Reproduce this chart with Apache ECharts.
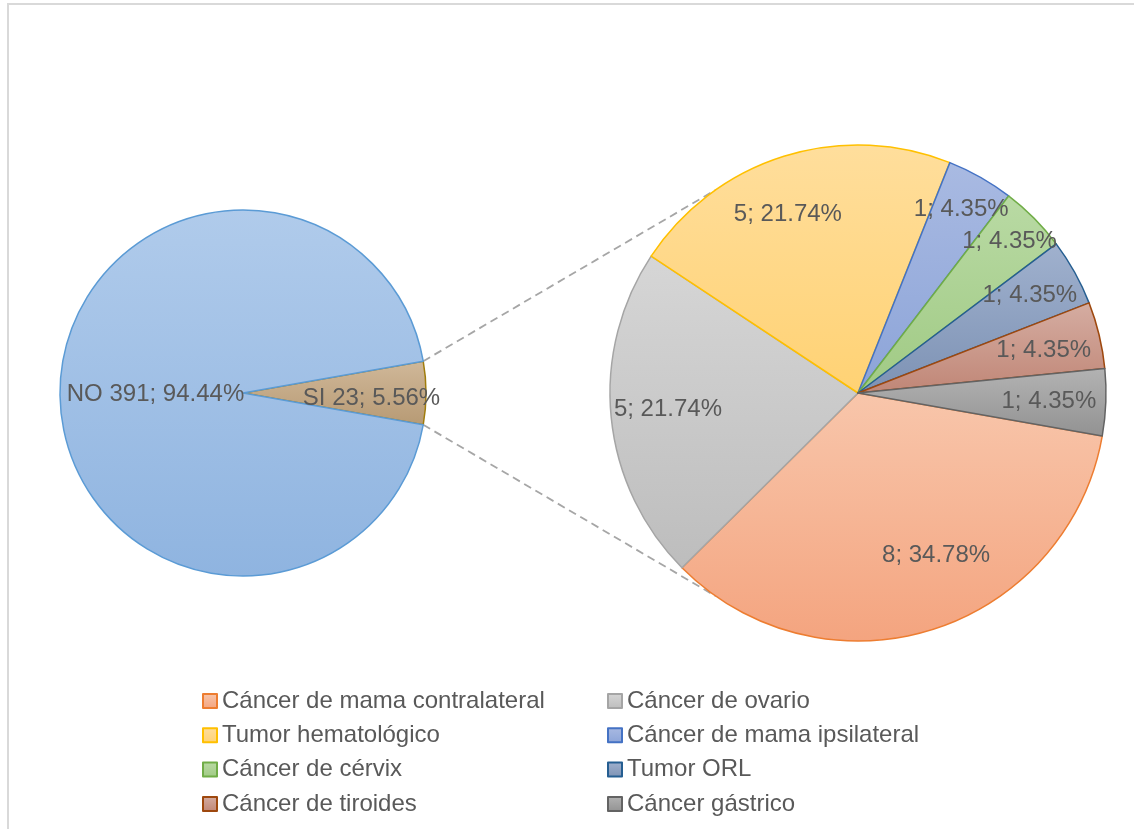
<!DOCTYPE html>
<html>
<head>
<meta charset="utf-8">
<script src="https://cdn.jsdelivr.net/npm/echarts@6/dist/echarts.min.js"></script>
<style>
  html, body { margin: 0; padding: 0; background: #ffffff; }
  #chart { width: 1134px; height: 829px; }
</style>
</head>
<body>
<div id="chart"></div>
<script>
// Patients with / without a second primary tumour
const mainNames = ['SI', 'NO'];
const mainValues = [23, 391];

// Breakdown of the "SI" group by tumour type
const detailNames = [
  'Cáncer de mama contralateral',
  'Cáncer de ovario',
  'Tumor hematológico',
  'Cáncer de mama ipsilateral',
  'Cáncer de cérvix',
  'Tumor ORL',
  'Cáncer de tiroides',
  'Cáncer gástrico'
];
const detailValues = [8, 5, 5, 1, 1, 1, 1, 1];

// Legend columns
const legendColA = ['Cáncer de mama contralateral', 'Tumor hematológico', 'Cáncer de cérvix', 'Cáncer de tiroides'];
const legendColB = ['Cáncer de ovario', 'Cáncer de mama ipsilateral', 'Tumor ORL', 'Cáncer gástrico'];

// Slice styling: [fill top, fill bottom, outline]
const mainStyle = [
  ['#d0b899', '#b79a74', '#a07c0c'],
  ['#b0cbeb', '#8fb4e0', '#5b9bd5']
];
const detailStyle = [
  ['#f8c6ab', '#f4a47f', '#ed7d31'],
  ['#d6d6d6', '#bdbdbd', '#a5a5a5'],
  ['#ffde9c', '#ffd274', '#ffc000'],
  ['#a9bae2', '#8ca4d8', '#4472c4'],
  ['#b9daa4', '#a0ca84', '#70ad47'],
  ['#a0b1ce', '#7d92b4', '#255e91'],
  ['#d5ada2', '#c08676', '#9e480e'],
  ['#b3b3b3', '#929292', '#636363']
];

// Small label nudges (px)
const detailLabelShift = [[21, -20], [0, -2], [-13, 4], [9, -17], [16, -17], [5, -5], [0, 2], [0, 1]];
const mainLabelShift = [[34, 5], [7, 1]];

const FONT = '"Liberation Sans", Arial, sans-serif';
const TEXT = '#595959';

const LEFT = { cx: 243, cy: 393, r: 183 };
const RIGHT = { cx: 858, cy: 393, r: 248, labelInner: 128, start: -10 };

const sum = a => a.reduce((s, v) => s + v, 0);
const mainTotal = sum(mainValues);
const detailTotal = sum(detailValues);
const pct = (v, t) => (v / t * 100).toFixed(2);

function grad(top, bottom) {
  return new echarts.graphic.LinearGradient(0, 0, 0, 1, [
    { offset: 0, color: top },
    { offset: 1, color: bottom }
  ]);
}

// The "SI" slice is centred on the horizontal axis
const siHalf = mainValues[0] / mainTotal * 180;

const mainData = mainNames.map((n, i) => ({
  name: n,
  value: mainValues[i],
  itemStyle: { color: grad(mainStyle[i][0], mainStyle[i][1]), borderColor: mainStyle[i][2], borderWidth: 1.5 }
}));

const detailData = detailNames.map((n, i) => ({
  name: n,
  value: detailValues[i],
  itemStyle: { color: grad(detailStyle[i][0], detailStyle[i][1]), borderColor: detailStyle[i][2], borderWidth: 1.5 }
}));

const detailLabelData = detailNames.map((n, i) => ({ name: n, value: detailValues[i] }));

// Connector lines from the edges of the "SI" slice to the detail pie
const rad = d => d * Math.PI / 180;
const connAngle = 125;
function connector(sign) {
  return {
    type: 'line',
    z: 0,
    silent: true,
    shape: {
      x1: LEFT.cx + LEFT.r * Math.cos(rad(siHalf)),
      y1: LEFT.cy - sign * LEFT.r * Math.sin(rad(siHalf)),
      x2: RIGHT.cx + RIGHT.r * Math.cos(rad(connAngle)),
      y2: RIGHT.cy - sign * RIGHT.r * Math.sin(rad(connAngle))
    },
    style: { stroke: '#a6a6a6', lineWidth: 1.8, lineDash: [8, 5] }
  };
}

const legendBase = {
  orient: 'vertical',
  top: 684,
  itemWidth: 14,
  itemHeight: 14,
  itemGap: 10.3,
  icon: 'rect',
  selectedMode: false,
  textStyle: { fontSize: 24, color: TEXT, fontFamily: FONT, lineHeight: 24 }
};

const chart = echarts.init(document.getElementById('chart'), null, { renderer: 'canvas' });

chart.setOption({
  backgroundColor: '#ffffff',
  animation: false,
  textStyle: { fontFamily: FONT },
  legend: [
    Object.assign({}, legendBase, { left: 197, data: legendColA }),
    Object.assign({}, legendBase, { left: 602, data: legendColB })
  ],
  graphic: [
    {
      type: 'rect',
      z: 0,
      silent: true,
      shape: { x: 8, y: 4, width: 1200, height: 900 },
      style: { fill: 'none', stroke: '#d9d9d9', lineWidth: 2 }
    },
    connector(1),
    connector(-1)
  ],
  series: [
    {
      type: 'pie',
      z: 2,
      silent: true,
      center: [LEFT.cx, LEFT.cy],
      radius: LEFT.r,
      startAngle: siHalf,
      clockwise: true,
      data: mainData,
      label: {
        show: true,
        position: 'inside',
        fontSize: 24,
        color: TEXT,
        fontFamily: FONT,
        formatter: p => p.name + ' ' + p.value + '; ' + pct(p.value, mainTotal) + '%'
      },
      labelLayout: p => ({ dx: mainLabelShift[p.dataIndex][0], dy: mainLabelShift[p.dataIndex][1] }),
      labelLine: { show: false },
      emphasis: { disabled: true }
    },
    {
      type: 'pie',
      z: 2,
      silent: true,
      center: [RIGHT.cx, RIGHT.cy],
      radius: RIGHT.r,
      startAngle: RIGHT.start,
      clockwise: true,
      data: detailData,
      label: { show: false },
      labelLine: { show: false },
      emphasis: { disabled: true }
    },
    {
      // transparent ring that carries the value labels of the detail pie
      type: 'pie',
      z: 3,
      silent: true,
      legendHoverLink: false,
      center: [RIGHT.cx, RIGHT.cy],
      radius: [RIGHT.labelInner, RIGHT.r],
      startAngle: RIGHT.start,
      clockwise: true,
      data: detailLabelData,
      itemStyle: { color: 'rgba(0,0,0,0)', borderWidth: 0 },
      label: {
        show: true,
        position: 'inside',
        fontSize: 24,
        color: TEXT,
        fontFamily: FONT,
        formatter: p => p.value + '; ' + pct(p.value, detailTotal) + '%'
      },
      labelLayout: p => ({ dx: detailLabelShift[p.dataIndex][0], dy: detailLabelShift[p.dataIndex][1] }),
      labelLine: { show: false },
      emphasis: { disabled: true }
    }
  ]
});
</script>
</body>
</html>
